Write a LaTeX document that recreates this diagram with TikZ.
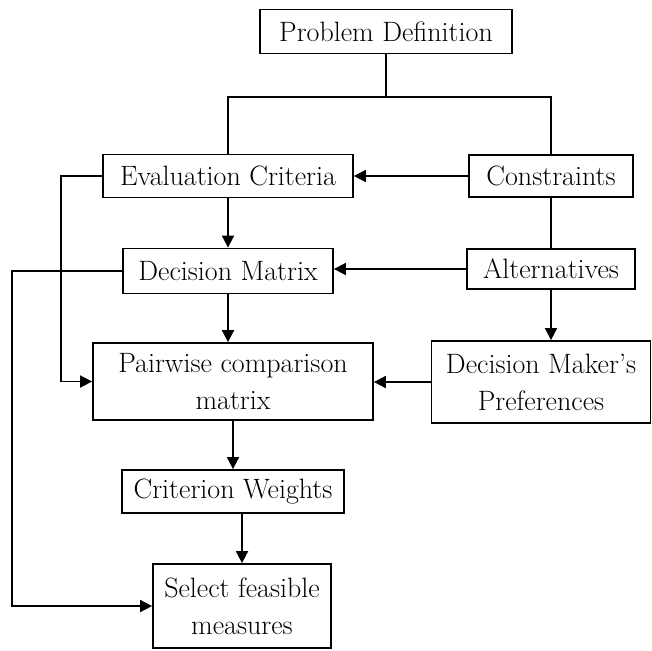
\documentclass[tikz,border=0pt]{standalone}
\usepackage{fontspec}
\usepackage{amsmath, amssymb}
\usepackage{xcolor}
\usepackage{tikz}
\usetikzlibrary{shapes, arrows, arrows.meta, positioning, calc}

\begin{document}
\begin{tikzpicture}[x=1pt, y=-1pt, line width=1.8pt,
                    >={Triangle[length=12pt,width=12pt]},
                    blocco/.style={draw, align=center, inner sep=2pt,
                                   font=\fontsize{28}{37}\selectfont}]
                    \useasboundingbox (0,0) rectangle (652,650);

                    \node[blocco, minimum width=252, minimum height=44] (Problema) at (386,31.5) {Problem Definition};

                    \node[blocco, minimum width=250, minimum height=43] (Criteri) at (228,176) {Evaluation Criteria};
                    \node[blocco, minimum width=164, minimum height=42] (Vincoli) at (551,176) {Constraints};

                    \node[blocco, minimum width=210, minimum height=45] (Matrice) at (228,271) {Decision Matrix};
                    \node[blocco, minimum width=168, minimum height=40] (Alternative) at (551,269) {Alternatives};

                    \node[blocco, minimum width=280, minimum height=77] (Confronto) at (233,381.5) {Pairwise comparison\\matrix};
                    \node[blocco, minimum width=219, minimum height=82] (Preferenze) at (541,382) {Decision Maker's\\Preferences};

                    \node[blocco, minimum width=222, minimum height=43] (Pesi) at (233,491.5) {Criterion Weights};
                    \node[blocco, minimum width=178, minimum height=84] (Misure) at (242,606) {Select feasible\\measures};

                    \coordinate (Ramo) at (386,97);

                    \draw (Problema.south) -- (Ramo);
                    \draw (Criteri.north) |- (Ramo) -| (Vincoli.north);
                    \draw[->] (Vincoli.west) -- (Criteri.east);
                    \draw (Vincoli.south) -- (Alternative.north);
                    \draw[->] (Alternative.west) -- (Alternative.west -| Matrice.east);
                    \draw[->] (Alternative.south) -- (Alternative.south |- Preferenze.north);
                    \draw[->] (Preferenze.west) -- (Preferenze.west -| Confronto.east);
                    \draw[->] (Criteri.south) -- (Criteri.south |- Matrice.north);
                    \draw[->] (Matrice.south) -- (Matrice.south |- Confronto.north);
                    \draw[->] (Confronto.south) -- (Confronto.south |- Pesi.north);
                    \draw[->] (Misure.north |- Pesi.south) -- (Misure.north);
                    \draw[->] (Criteri.west) -- ++(-41,0) |- (Confronto.west);
                    \draw[->] (Matrice.west) -- ++(-110,0) |- (Misure.west);
                \end{tikzpicture}
\end{document}
